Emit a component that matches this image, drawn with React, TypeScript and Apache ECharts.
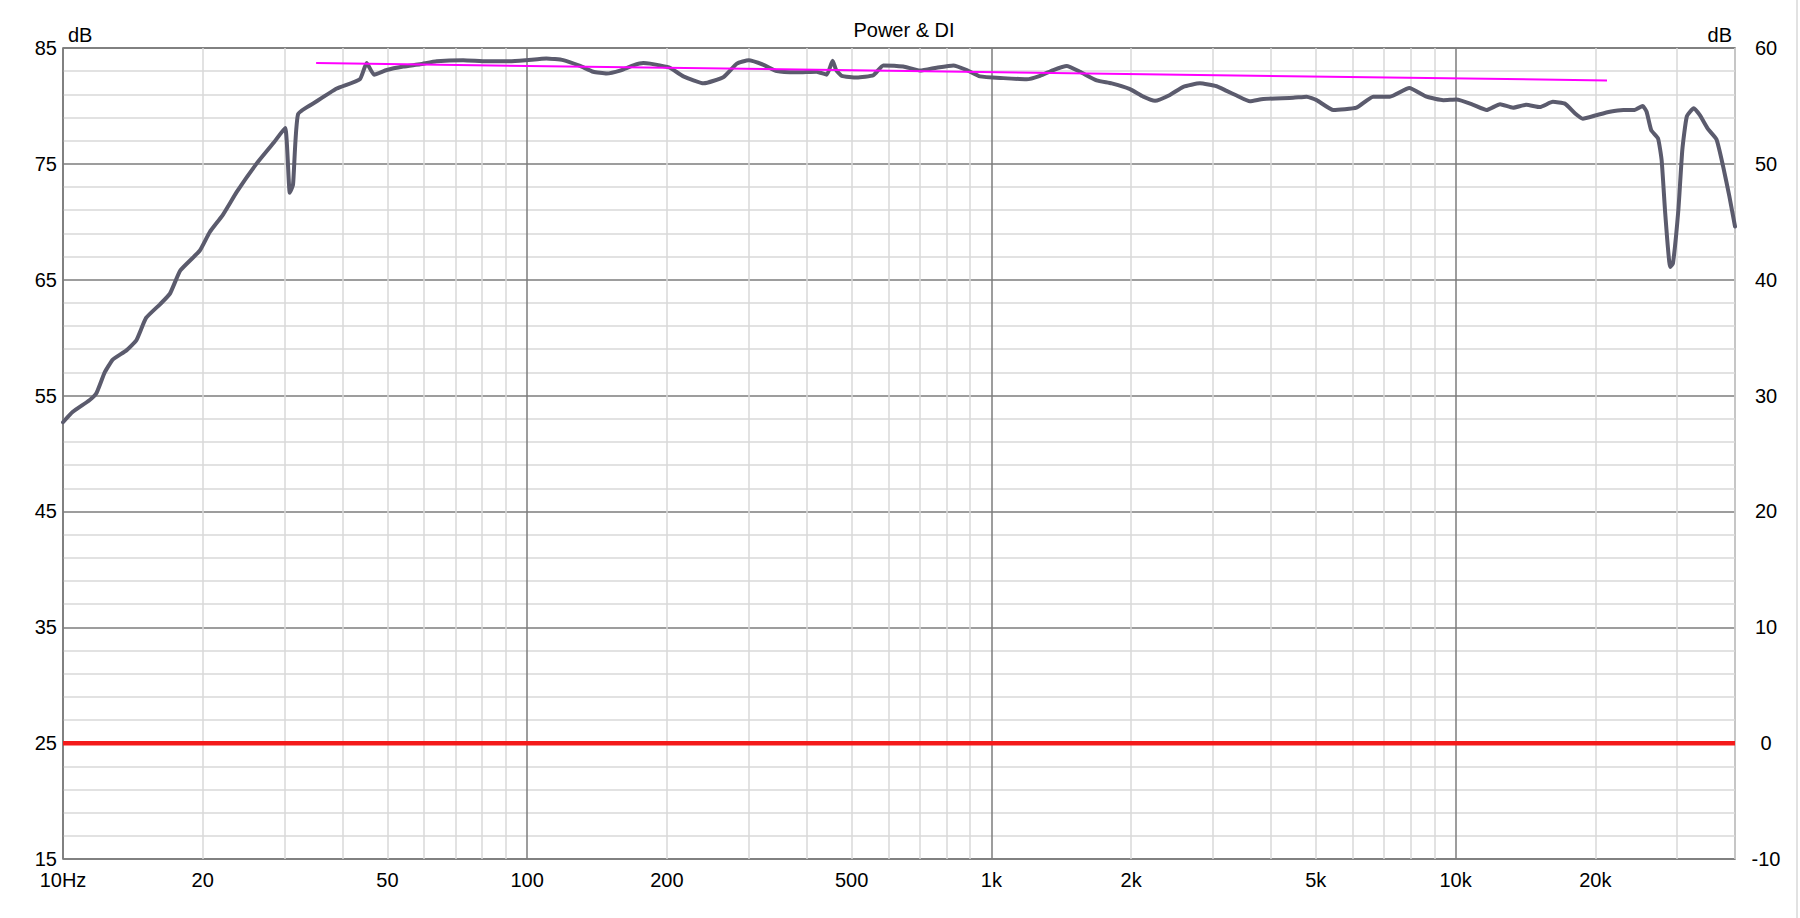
import React, { useEffect, useRef } from "react";
import * as echarts from "echarts";

// ---- data ----
const splFreqs: number[] = [
  10, 10.5, 11.4, 11.8, 12.3, 12.8, 13.7, 14.4, 15.1, 16.2, 17.0, 17.9, 19.7, 20.7, 22.1, 23.7, 26.1, 28.4, 30.1,
  30.8, 31.3, 32.1, 35.2, 38.9, 43.6, 45.1, 46.8, 49.8, 54.1, 58.8, 63.8, 72.8, 81.8, 91.8, 99.7, 110, 119.6, 130,
  138.8, 148.3, 158.5, 169.3, 177.9, 184, 193, 203, 217, 240, 265, 283, 300, 323, 345, 381, 420, 442, 455, 463, 476,
  513, 557, 585, 646, 702, 762, 828, 885, 945, 1061, 1191, 1273, 1360, 1453, 1552, 1686, 1816, 1989, 2125, 2252,
  2425, 2591, 2814, 3057, 3212, 3376, 3606, 3853, 4471, 4777, 5020, 5453, 6120, 6647, 7222, 7950, 8661, 9408,
  10050, 10920, 11670, 12470, 13300, 14200, 15200, 16200, 17200, 18100, 18800, 20100, 21500, 23000, 24300, 25300,
  25800, 26400, 27300, 27800, 28300, 29000, 29400, 30200, 30800, 31500, 32600, 33600, 35000, 36500, 37700, 38900,
  40000,
];
const splValues: number[] = [
  52.7, 53.6, 54.6, 55.2, 57.0, 58.1, 58.9, 59.8, 61.7, 62.9, 63.8, 65.8, 67.5, 69.1, 70.6, 72.6, 75.0, 76.8, 78.1,
  72.5, 73.2, 79.3, 80.4, 81.5, 82.3, 83.7, 82.7, 83.1, 83.4, 83.6, 83.85, 83.95, 83.85, 83.85, 83.95, 84.1, 83.95,
  83.45, 82.95, 82.8, 83.05, 83.5, 83.7, 83.65, 83.5, 83.3, 82.55, 81.95, 82.5, 83.65, 83.95, 83.55, 83.0, 82.9,
  82.95, 82.7, 83.9, 83.1, 82.6, 82.45, 82.65, 83.5, 83.4, 83.05, 83.3, 83.5, 83.1, 82.55, 82.4, 82.3, 82.6, 83.1,
  83.45, 82.95, 82.2, 81.95, 81.45, 80.8, 80.45, 80.95, 81.65, 81.95, 81.7, 81.3, 80.9, 80.4, 80.6, 80.7, 80.8,
  80.5, 79.65, 79.85, 80.8, 80.8, 81.55, 80.8, 80.5, 80.55, 80.1, 79.65, 80.15, 79.85, 80.1, 79.9, 80.35, 80.2,
  79.35, 78.9, 79.2, 79.5, 79.65, 79.65, 80.0, 79.5, 77.9, 77.2, 75.3, 70.7, 66.1, 66.4, 71.0, 76.2, 79.1, 79.8,
  79.2, 78.0, 77.1, 74.8, 72.2, 69.6,
];
const trendFreqs: number[] = [35.1, 21200];
const trendValues: number[] = [83.7, 82.2];
const diFreqs: number[] = [10, 40000];
const diValues: number[] = [0, 0];

const xLabelFreqs: number[] = [10, 20, 50, 100, 200, 500, 1000, 2000, 5000, 10000, 20000];
const xLabelTexts: string[] = ["10Hz", "20", "50", "100", "200", "500", "1k", "2k", "5k", "10k", "20k"];
const gridFreqs: number[] = [
  10, 20, 30, 40, 50, 60, 70, 80, 90,
  100, 200, 300, 400, 500, 600, 700, 800, 900,
  1000, 2000, 3000, 4000, 5000, 6000, 7000, 8000, 9000,
  10000, 20000, 30000, 40000,
];
const xMinFreq = 10;
const xMaxFreq = 40000;
const leftMin = 15, leftMax = 85, rightMin = -10, rightMax = 60, yStep = 10;

const FONT = "'Liberation Sans', Arial, sans-serif";
const FS = 20;
const lg = (f: number) => Math.log10(f);

export default function App() {
  const ref = useRef<HTMLDivElement>(null);
  useEffect(() => {
    if (!ref.current) return;
    const chart = echarts.init(ref.current, undefined, { renderer: "svg" });
    const minor = "#d8d8d8";
    const major = "#7c7c7c";
    const option: any = {
      animation: false,
      backgroundColor: "#ffffff",
      title: {
        text: "Power & DI",
        left: 899,
        textAlign: "center",
        top: 15,
        textStyle: { fontFamily: FONT, fontSize: FS, fontWeight: "normal", color: "#000" },
      },
      grid: {
        left: 63, right: 65, top: 48, bottom: 59,
        show: true, borderColor: "#6e6e6e", borderWidth: 1.5, backgroundColor: "transparent",
        containLabel: false,
      },
      xAxis: {
        type: "value",
        min: lg(xMinFreq),
        max: lg(xMaxFreq),
        axisLine: { show: false },
        axisTick: { show: false, customValues: gridFreqs.map(lg) },
        axisLabel: {
          customValues: xLabelFreqs.map(lg),
          fontFamily: FONT, fontSize: FS, lineHeight: 20, color: "#000", margin: 11,
          formatter: (v: number) => {
            const i = xLabelFreqs.findIndex((f) => Math.abs(lg(f) - v) < 1e-6);
            return i >= 0 ? xLabelTexts[i] : "";
          },
        },
        splitLine: {
          show: true,
          lineStyle: { color: [major, minor, minor, minor, minor, minor, minor, minor, minor], width: 1.5 },
        },
      },
      yAxis: [
        {
          type: "value", position: "left", min: leftMin, max: leftMax, interval: yStep,
          name: "dB", nameLocation: "end", nameGap: 3,
          nameTextStyle: { fontFamily: FONT, fontSize: FS, color: "#000", align: "left", verticalAlign: "bottom", padding: [0, 0, 0, 5] },
          axisLine: { show: false }, axisTick: { show: false },
          axisLabel: { fontFamily: FONT, fontSize: FS, lineHeight: 20, color: "#000", margin: 6, padding: [0, 0, 5, 0] },
          splitLine: { show: true, lineStyle: { color: major, width: 1.5 } },
          minorTick: { show: false, splitNumber: 5 },
          minorSplitLine: { show: true, lineStyle: { color: minor, width: 1.5 } },
        },
        {
          type: "value", position: "right", min: rightMin, max: rightMax, interval: yStep,
          name: "dB", nameLocation: "end", nameGap: 3,
          nameTextStyle: { fontFamily: FONT, fontSize: FS, color: "#000", align: "right", verticalAlign: "bottom", padding: [0, 3, 0, 0] },
          axisLine: { show: false }, axisTick: { show: false },
          axisLabel: { fontFamily: FONT, fontSize: FS, lineHeight: 20, color: "#000", margin: 31, align: "center", padding: [0, 0, 3, 0] },
          splitLine: { show: false },
        },
      ],
      graphic: [
        { type: "rect", shape: { x: 1796, y: 0, width: 2, height: 918 }, style: { fill: "#e2e2e2" }, silent: true },
      ],
      series: [
        {
          type: "line", name: "DI", yAxisIndex: 1, showSymbol: false,
          data: diFreqs.map((f, i) => [lg(f), diValues[i]]),
          lineStyle: { color: "#f41a1a", width: 4.5 },
          z: 3,
        },
        {
          type: "line", name: "Power", yAxisIndex: 0, showSymbol: false, smooth: 0.15,
          data: splFreqs.map((f, i) => [lg(f), splValues[i]]),
          lineStyle: { color: "#5b5b6d", width: 4, join: "round", cap: "round" },
          z: 4,
        },
        {
          type: "line", name: "Trend", yAxisIndex: 0, showSymbol: false,
          data: trendFreqs.map((f, i) => [lg(f), trendValues[i]]),
          lineStyle: { color: "#ff00ff", width: 2 },
          z: 5,
        },
      ],
    };
    chart.setOption(option);
    return () => chart.dispose();
  }, []);
  return (
    <div
      ref={ref}
      style={{ position: "absolute", left: 0, top: 0, width: 1800, height: 918, background: "#fff" }}
    />
  );
}
